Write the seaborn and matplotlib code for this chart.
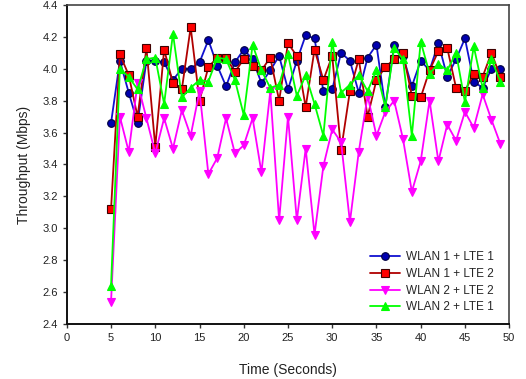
import numpy as np
import pandas as pd
import matplotlib
matplotlib.use("Agg")
import matplotlib.pyplot as plt
import seaborn as sns

# Time axis (seconds)
time_s = list(range(5, 50))

# Throughput values (Mbps)
wlan1_lte1 = [3.66, 4.05, 3.85, 3.66, 4.05, 4.05, 4.04, 3.93, 4.00, 4.00,
              4.04, 4.18, 4.02, 3.89, 4.04, 4.12, 4.06, 3.91, 3.99, 4.08,
              3.87, 4.05, 4.21, 4.19, 3.86, 3.87, 4.10, 4.05, 3.85, 4.07,
              4.15, 3.76, 4.15, 4.08, 3.89, 4.05, 3.99, 4.16, 3.95, 4.06,
              4.19, 3.92, 3.88, 4.00, 4.00]
wlan1_lte2 = [3.12, 4.09, 3.96, 3.70, 4.13, 3.51, 4.12, 3.91, 3.87, 4.26,
              3.80, 4.01, 4.07, 4.07, 3.98, 4.06, 4.02, 3.99, 4.07, 3.80,
              4.16, 4.08, 3.76, 4.12, 3.93, 4.08, 3.49, 3.86, 4.06, 3.70,
              3.93, 4.01, 4.06, 4.10, 3.83, 3.82, 3.99, 4.11, 4.13, 3.88,
              3.86, 3.97, 3.95, 4.10, 3.95]
wlan2_lte2 = [2.54, 3.70, 3.48, 3.91, 3.69, 3.47, 3.69, 3.50, 3.74, 3.58,
              3.86, 3.34, 3.44, 3.69, 3.47, 3.52, 3.69, 3.35, 3.86, 3.05,
              3.70, 3.05, 3.50, 2.96, 3.39, 3.62, 3.54, 3.04, 3.48, 3.83,
              3.58, 3.73, 3.80, 3.56, 3.23, 3.42, 3.80, 3.42, 3.65, 3.55,
              3.73, 3.63, 3.84, 3.68, 3.53]
wlan2_lte1 = [2.64, 4.00, 3.95, 3.87, 4.06, 4.07, 3.78, 4.22, 3.82, 3.88,
              3.93, 3.92, 4.07, 4.06, 3.93, 3.71, 4.15, 3.99, 3.88, 3.90,
              4.09, 3.83, 3.96, 3.78, 3.58, 4.17, 3.85, 3.90, 3.96, 3.86,
              3.99, 3.76, 4.13, 4.06, 3.58, 4.17, 3.97, 4.03, 3.99, 4.10,
              3.79, 4.14, 3.88, 4.06, 3.92]

labels = ["WLAN 1 + LTE 1", "WLAN 1 + LTE 2", "WLAN 2 + LTE 2", "WLAN 2 + LTE 1"]
series = [wlan1_lte1, wlan1_lte2, wlan2_lte2, wlan2_lte1]

# style per series: line colour, marker, marker face, marker edge
styles = [
    ("#1010d0", "o", "#0000b0", "#000040"),
    ("#b00000", "s", "#ff0000", "#400000"),
    ("#ff00ff", "v", "#ff00ff", "#ff00ff"),
    ("#00ff00", "^", "#00ff00", "#00ff00"),
]

sns.set_style("ticks")
plt.rcParams["font.family"] = ["Liberation Sans", "DejaVu Sans"]

fig = plt.figure(figsize=(5.26, 3.79), dpi=100)
ax = fig.add_axes([0.127, 0.145, 0.841, 0.842])

for vals, lab, (lc, mk, mf, me) in zip(series, labels, styles):
    df = pd.DataFrame({"Time": time_s, "Throughput": vals})
    sns.lineplot(data=df, x="Time", y="Throughput", ax=ax, color=lc,
                 marker=mk, markersize=5.5, markerfacecolor=mf,
                 markeredgecolor=me, markeredgewidth=0.8,
                 linewidth=1.3, label=lab)

ax.set_xlim(0, 50)
ax.set_ylim(2.4, 4.4)
ax.set_xticks(np.arange(0, 51, 5))
ax.set_yticks(np.arange(2.4, 4.41, 0.2))
ax.set_yticklabels([f"{v:.1f}" for v in np.arange(2.4, 4.41, 0.2)])
ax.tick_params(axis="both", labelsize=8, direction="out", length=3,
               width=1, colors="#333333", labelcolor="#222222")
ax.set_xlabel("Time (Seconds)", fontsize=10, labelpad=14, color="#222222")
ax.set_ylabel("Throughput (Mbps)", fontsize=10, labelpad=8, color="#222222")

for side in ["left", "bottom"]:
    ax.spines[side].set_linewidth(1.4)
    ax.spines[side].set_color("#111111")
for side in ["top", "right"]:
    ax.spines[side].set_visible(True)
    ax.spines[side].set_linewidth(1.2)
    ax.spines[side].set_color("#444444")

ax.legend(loc="lower right", bbox_to_anchor=(0.99, 0.0), frameon=False,
          fontsize=8.5, handlelength=2.6, labelspacing=0.4,
          handletextpad=0.5)

fig.savefig("out.png", dpi=100)
